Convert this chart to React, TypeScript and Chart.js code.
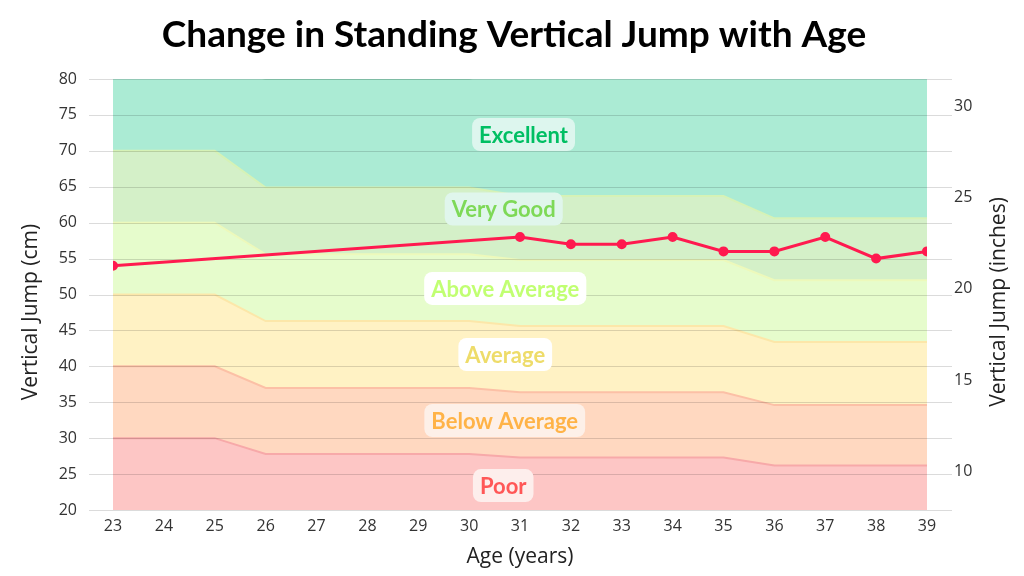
import { useEffect, useRef } from 'react';
import { Chart, registerables } from 'chart.js';
import type { Plugin } from 'chart.js';

Chart.register(...registerables);

// ages on the x axis
const ages = [23, 24, 25, 26, 27, 28, 29, 30, 31, 32, 33, 34, 35, 36, 37, 38, 39];

// upper edge (cm) of each rating band, per age
const poorTop = [30, 30, 30, 27.8, 27.8, 27.8, 27.8, 27.8, 27.3, 27.3, 27.3, 27.3, 27.3, 26.2, 26.2, 26.2, 26.2];
const belowAverageTop = [40, 40, 40, 37, 37, 37, 37, 37, 36.4, 36.4, 36.4, 36.4, 36.4, 34.6, 34.6, 34.6, 34.6];
const averageTop = [50, 50, 50, 46.3, 46.3, 46.3, 46.3, 46.3, 45.6, 45.6, 45.6, 45.6, 45.6, 43.4, 43.4, 43.4, 43.4];
const aboveAverageTop = [60, 60, 60, 55.6, 55.6, 55.6, 55.6, 55.6, 54.8, 54.8, 54.8, 54.8, 54.8, 52, 52, 52, 52];
const veryGoodTop = [70, 70, 70, 64.9, 64.9, 64.9, 64.9, 64.9, 63.7, 63.7, 63.7, 63.7, 63.7, 60.6, 60.6, 60.6, 60.6];
const excellentTop = [82, 82, 82, 80, 80, 80, 80, 80, 82, 82, 82, 82, 82, 82, 82, 82, 82];

// measured jump
const jumpAges = [23, 31, 32, 33, 34, 35, 36, 37, 38, 39];
const jumpCm = [54, 58, 57, 57, 58, 56, 56, 58, 55, 56];

// right axis tick labels (inches)
const inchTicks = [10, 15, 20, 25, 30];

const bandNames = ['Poor', 'Below Average', 'Average', 'Above Average', 'Very Good', 'Excellent'];
const bandTops = [poorTop, belowAverageTop, averageTop, aboveAverageTop, veryGoodTop, excellentTop];
const bandFills = ['#FDC6C5', '#FFD8C0', '#FFF2C4', '#E6FCCC', '#D4F0C8', '#ABEBD4'];
const bandBorders = ['#F7A9A9', '#FCC0A6', '#FCE7A9', '#EDF9BB', '#D6F2B6', '#93DBBF'];

// label placement (age, cm) and colours
const labelSpots = [
  { text: 'Poor', x: 30.67, y: 23.4, color: '#FF5757', bg: '#FDEEEC' },
  { text: 'Below Average', x: 30.7, y: 32.46, color: '#FFB347', bg: '#FDF0E8' },
  { text: 'Average', x: 30.71, y: 41.65, color: '#EEDC6A', bg: '#FFFFFF' },
  { text: 'Above Average', x: 30.71, y: 50.84, color: '#C1FF72', bg: '#FFFFFF' },
  { text: 'Very Good', x: 30.68, y: 61.9, color: '#7ED957', bg: '#E0F6EC' },
  { text: 'Excellent', x: 31.07, y: 72.27, color: '#00BF63', bg: '#DDF6EE' },
];

const gridPlugin: Plugin<'line'> = {
  id: 'extendedGrid',
  beforeDatasetDraw(chart, args) {
    if (args.index !== 0) return;
    const { ctx, chartArea } = chart;
    const y = chart.scales.y;
    ctx.save();
    ctx.strokeStyle = 'rgba(0,0,0,0.14)';
    ctx.lineWidth = 1;
    y.ticks.forEach(t => {
      const py = Math.round(y.getPixelForValue(t.value)) + 0.5;
      ctx.beginPath();
      ctx.moveTo(chartArea.left - 24, py);
      ctx.lineTo(chartArea.right + 25, py);
      ctx.stroke();
    });
    ctx.restore();
  },
};

const bandLabelPlugin: Plugin<'line'> = {
  id: 'bandLabels',
  afterDatasetsDraw(chart) {
    const { ctx } = chart;
    const xs = chart.scales.x;
    const ys = chart.scales.y;
    ctx.save();
    ctx.font = 'bold 22px Lato';
    ctx.textAlign = 'center';
    ctx.textBaseline = 'middle';
    labelSpots.forEach(l => {
      const cx = xs.getPixelForValue(l.x);
      const cy = ys.getPixelForValue(l.y);
      const w = ctx.measureText(l.text).width + 14;
      const h = 33;
      ctx.fillStyle = l.bg;
      ctx.beginPath();
      ctx.roundRect(cx - w / 2, cy - h / 2, w, h, 8);
      ctx.fill();
      ctx.fillStyle = l.color;
      ctx.fillText(l.text, cx, cy + 1);
    });
    ctx.restore();
  },
};

const titlePlugin: Plugin<'line'> = {
  id: 'titles',
  afterDraw(chart) {
    const { ctx } = chart;
    ctx.save();
    ctx.textAlign = 'center';
    ctx.textBaseline = 'middle';
    ctx.font = 'bold 37px Lato';
    ctx.fillStyle = '#000000';
    ctx.fillText('Change in Standing Vertical Jump with Age', 514, 35);

    ctx.font = '21px Open Sans';
    ctx.fillStyle = '#222222';
    ctx.translate(31, 312);
    ctx.rotate(-Math.PI / 2);
    ctx.fillText('Vertical Jump (cm)', 0, 0);
    ctx.restore();

    ctx.save();
    ctx.textAlign = 'center';
    ctx.textBaseline = 'middle';
    ctx.font = '21px Open Sans';
    ctx.fillStyle = '#222222';
    ctx.translate(999, 302);
    ctx.rotate(-Math.PI / 2);
    ctx.fillText('Vertical Jump (inches)', 0, 0);
    ctx.restore();
  },
};

function JumpChart() {
  const chartRef = useRef<HTMLCanvasElement>(null);
  const chartInstance = useRef<Chart | null>(null);

  useEffect(() => {
    if (!chartRef.current) return;
    if (chartInstance.current) chartInstance.current.destroy();
    const ctx = chartRef.current.getContext('2d');
    if (!ctx) return;

    const bandSets = bandNames.map((name, i) => ({
      label: name,
      data: ages.map((a, j) => ({ x: a, y: bandTops[i][j] })),
      backgroundColor: bandFills[i],
      borderColor: bandBorders[i],
      borderWidth: 2,
      pointRadius: 0,
      tension: 0,
      fill: i === 0 ? 'start' : '-1',
    }));

    chartInstance.current = new Chart(ctx, {
      type: 'line',
      data: {
        datasets: [
          {
            label: 'Vertical Jump',
            data: jumpAges.map((a, i) => ({ x: a, y: jumpCm[i] })),
            borderColor: '#FF1A4F',
            backgroundColor: '#FF1A4F',
            borderWidth: 3,
            pointRadius: 3.5,
            pointHoverRadius: 3.5,
            fill: false,
            tension: 0,
          },
          ...bandSets,
        ] as any,
      },
      options: {
        animation: false,
        responsive: true,
        maintainAspectRatio: false,
        layout: { padding: { top: 79, left: 0, right: 0, bottom: 0 } },
        plugins: {
          legend: { display: false },
          tooltip: { enabled: false },
        },
        scales: {
          x: {
            type: 'linear',
            min: 23,
            max: 39,
            grid: { display: false, drawTicks: false },
            border: { display: false },
            ticks: {
              stepSize: 1,
              padding: 7,
              color: '#333333',
              font: { family: 'Open Sans', size: 16 },
            },
            title: {
              display: true,
              text: 'Age (years)',
              color: '#222222',
              font: { family: 'Open Sans', size: 21 },
              padding: { top: 0, bottom: 6 },
            },
            afterFit: axis => { axis.height = 66; },
          },
          y: {
            position: 'left',
            min: 20,
            max: 80,
            grid: { display: false, drawTicks: false },
            border: { display: false },
            ticks: {
              stepSize: 5,
              padding: 36,
              color: '#333333',
              font: { family: 'Open Sans', size: 16 },
            },
            afterFit: axis => { axis.width = 113; },
          },
          y1: {
            position: 'right',
            min: 20 / 2.54,
            max: 80 / 2.54,
            grid: { display: false, drawTicks: false },
            border: { display: false },
            afterBuildTicks: axis => { axis.ticks = inchTicks.map(v => ({ value: v })); },
            ticks: {
              padding: 27,
              color: '#333333',
              font: { family: 'Open Sans', size: 16 },
            },
            afterFit: axis => { axis.width = 97; },
          },
        },
      },
      plugins: [gridPlugin, bandLabelPlugin, titlePlugin],
    });

    return () => {
      if (chartInstance.current) {
        chartInstance.current.destroy();
        chartInstance.current = null;
      }
    };
  }, []);

  return (
    <div style={{ position: 'relative', width: 1024, height: 576 }}>
      <canvas ref={chartRef} />
    </div>
  );
}

export default function App() {
  useEffect(() => {
    document.body.style.margin = '0';
    document.body.style.background = '#ffffff';
  }, []);
  return <JumpChart />;
}
